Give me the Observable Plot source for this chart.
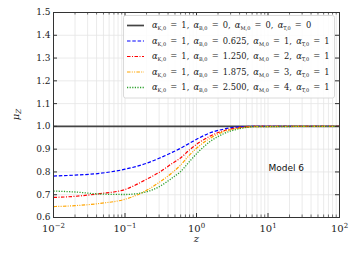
<!DOCTYPE html>
<html><head><meta charset="utf-8">
<script src="https://cdn.jsdelivr.net/npm/d3@7"></script>
<script src="https://cdn.jsdelivr.net/npm/@observablehq/plot@0.6"></script>
<style>body{margin:0;background:#fff}</style>
</head><body><div id="chart"></div>
<script>
// ---- data ----
const zRef = [0.01, 100];
const muRef = [1.0, 1.0];
const z = [0.01, 0.02, 0.045, 0.1, 0.2, 0.3, 0.45, 0.59, 0.82, 1.1, 1.5, 2.4, 4, 7, 100];
const muB0625 = [0.782, 0.786, 0.794, 0.812, 0.838, 0.860, 0.885, 0.903, 0.928, 0.950, 0.970, 0.988, 0.998, 1.0, 1.0];
const muB1250 = [0.688, 0.693, 0.705, 0.723, 0.768, 0.798, 0.836, 0.860, 0.900, 0.930, 0.955, 0.981, 0.995, 1.0, 1.0];
const muB1875 = [0.648, 0.652, 0.662, 0.680, 0.719, 0.754, 0.795, 0.828, 0.878, 0.915, 0.945, 0.977, 0.992, 0.999, 1.0];
const muB2500 = [0.716, 0.712, 0.703, 0.701, 0.713, 0.735, 0.772, 0.800, 0.850, 0.893, 0.930, 0.968, 0.990, 0.999, 1.0];
const alphaK = [1, 1, 1, 1, 1];
const alphaB = ["0", "0.625", "1.250", "1.875", "2.500"];
const alphaM = [0, 1, 2, 3, 4];
const alphaT = [0, 1, 1, 1, 1];
const yTicks = [0.6, 0.7, 0.8, 0.9, 1.0, 1.1, 1.2, 1.3, 1.4, 1.5];
const xMajor = [0.01, 0.1, 1, 10, 100];
const annotation = [{z: 18, mu: 0.816, text: "Model 6"}];

// ---- styles ----
const colors = ["#444444", "#0000ff", "#ff0000", "#ffa500", "#2ca02c"];
const dashes = ["none", "3.5,1.8", "3.5,1.5,1,1.5", "3.5,1.3,1,1.3,1,1.3", "1.2,1.4"];
const widths = [1.7, 1.2, 1.2, 1.2, 1.3];

const seriesMu = [muRef, muB0625, muB1250, muB1875, muB2500];
const seriesZ = [zRef, z, z, z, z];

const xMinor = [];
for (let e = -2; e < 2; e++) for (let k = 2; k <= 9; k++) xMinor.push(k * Math.pow(10, e));

const W = 354, H = 253, mL = 53, mR = 15, mT = 12, mB = 36;
const pw = W - mL - mR, ph = H - mT - mB;

const lineMarks = seriesMu.map((mu, i) => {
  const rows = mu.map((v, j) => ({z: seriesZ[i][j], mu: v}));
  return Plot.line(rows, {x: "z", y: "mu", stroke: colors[i], strokeWidth: widths[i],
    strokeDasharray: dashes[i], strokeLinecap: "butt", curve: "monotone-x"});
});

const chart = Plot.plot({
  width: W, height: H,
  marginLeft: mL, marginRight: mR, marginTop: mT, marginBottom: mB,
  style: {fontFamily: "'DejaVu Serif', serif", fontSize: "9px", background: "#fff", color: "#222"},
  x: {type: "log", domain: [0.01, 100]},
  y: {domain: [0.6, 1.5]},
  marks: [
    Plot.ruleX(xMajor.concat(xMinor), {stroke: "#e4e4e4", strokeWidth: 0.8}),
    Plot.ruleY(yTicks, {stroke: "#e4e4e4", strokeWidth: 0.8}),
    ...lineMarks,
    Plot.frame({stroke: "#333", strokeWidth: 1}),
    Plot.ruleX(xMajor, {stroke: "#333", insetTop: ph - 4}),
    Plot.ruleX(xMajor, {stroke: "#333", insetBottom: ph - 4}),
    Plot.ruleX(xMinor, {stroke: "#333", strokeWidth: 0.7, insetTop: ph - 2.5}),
    Plot.ruleX(xMinor, {stroke: "#333", strokeWidth: 0.7, insetBottom: ph - 2.5}),
    Plot.ruleY(yTicks, {stroke: "#333", insetRight: pw - 4}),
    Plot.ruleY(yTicks, {stroke: "#333", insetLeft: pw - 4}),
    Plot.axisX(xMajor, {tickSize: 0, tickPadding: 7, label: null, fontSize: 10,
      tickFormat: d => String(Math.round(Math.log10(d)))}),
    Plot.axisY(yTicks, {tickSize: 0, tickPadding: 3, label: null, fontSize: 9,
      tickFormat: d => d.toFixed(1)}),
    Plot.text(annotation, {x: "z", y: "mu", text: "text", fontFamily: "'DejaVu Sans', sans-serif",
      fontSize: 9, fill: "#111"}),
    Plot.text(["z"], {frameAnchor: "bottom", dy: 24, fontStyle: "italic", fontSize: 10})
  ]
});
document.getElementById("chart").append(chart);

const svg = d3.select(chart);
// x tick labels as powers of ten
svg.selectAll("g[aria-label='x-axis tick label'] text").each(function () {
  const e = this.textContent.replace("-", "\u2212");
  const t = d3.select(this);
  t.text("");
  t.append("tspan").text("10");
  t.append("tspan").attr("dy", "-0.45em").attr("font-size", "7").text(e);
});

// y label mu_Z
const yl = svg.append("text")
  .attr("transform", `translate(19,${mT + ph * 0.5}) rotate(-90)`)
  .attr("text-anchor", "middle")
  .attr("font-family", "'DejaVu Serif', serif").attr("font-size", 10).attr("fill", "#222");
yl.append("tspan").attr("font-style", "italic").text("\u03bc");
yl.append("tspan").attr("dy", "0.3em").attr("font-size", 7).attr("font-style", "italic").text("Z");

// legend
const lg = svg.append("g");
lg.append("rect").attr("x", 123.5).attr("y", 15.5).attr("width", 211).attr("height", 82.5)
  .attr("rx", 2).attr("fill", "#fff").attr("fill-opacity", 0.85).attr("stroke", "#d0d0d0").attr("stroke-width", 0.8);
const rowY = [25.5, 41, 56.5, 72, 87.5];
const subs = ["K,0", "B,0", "M,0", "T,0"];
rowY.forEach((yy, i) => {
  lg.append("line").attr("x1", 127).attr("x2", 144).attr("y1", yy).attr("y2", yy)
    .attr("stroke", colors[i]).attr("stroke-width", widths[i]).attr("stroke-dasharray", dashes[i]);
  const t = lg.append("text").attr("x", 152).attr("y", yy + 2.5).attr("text-anchor", "start")
    .attr("font-family", "'DejaVu Serif', serif").attr("font-size", 8.3).attr("fill", "#222");
  const vals = [alphaK[i], alphaB[i], alphaM[i], alphaT[i]];
  vals.forEach((v, k) => {
    t.append("tspan").attr("font-style", "italic").text("\u03b1");
    t.append("tspan").attr("dy", "2").attr("font-size", 5).text(subs[k]);
    t.append("tspan").attr("dy", "-2").text("\u2002=\u2002" + v + (k < 3 ? ",\u2002" : ""));
  });
});
</script>
</body></html>
